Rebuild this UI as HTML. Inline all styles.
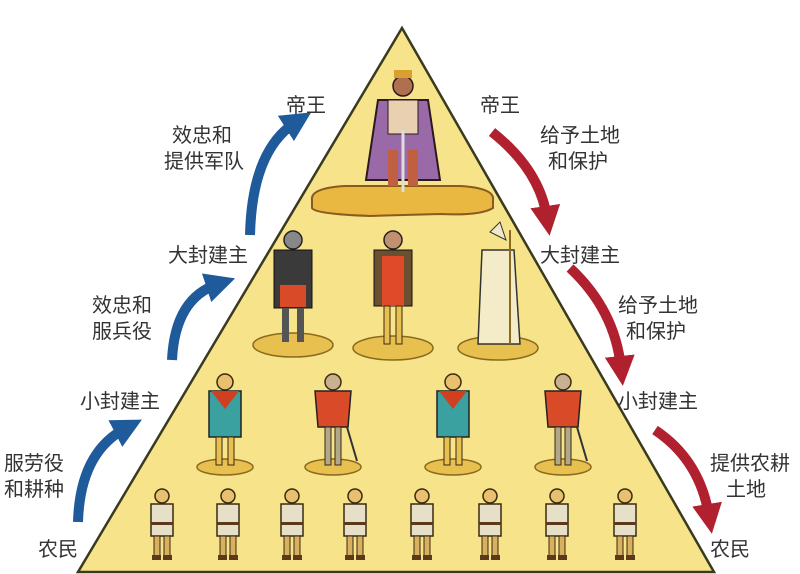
<!DOCTYPE html>
<html><head><meta charset="utf-8"><style>
html,body{margin:0;padding:0;background:#fff;}
svg{display:block}
text{font-family:"Liberation Sans","Noto Sans CJK SC",sans-serif;font-size:20px;fill:#333;}
</style></head><body>
<svg width="800" height="574" viewBox="0 0 800 574" xmlns="http://www.w3.org/2000/svg">
<defs>
<marker id="ab" viewBox="0 0 10 10" refX="4" refY="5" markerWidth="3" markerHeight="3" orient="auto"><path d="M0,0 L10,5 L0,10 z" fill="#1f5a9a"/></marker>
<marker id="ar" viewBox="0 0 10 10" refX="4" refY="5" markerWidth="3" markerHeight="3" orient="auto"><path d="M0,0 L10,5 L0,10 z" fill="#b0202e"/></marker>
<g id="peasant">
<circle cx="0" cy="-64" r="7" fill="#e8c070" stroke="#3a2a10" stroke-width="1.5"/>
<rect x="-11" y="-56" width="22" height="32" fill="#e6e0c8" stroke="#3a2a10" stroke-width="1.5"/>
<rect x="-11" y="-38" width="22" height="3" fill="#5a3a1a"/>
<rect x="-8" y="-24" width="6" height="20" fill="#d8b060" stroke="#3a2a10"/>
<rect x="2" y="-24" width="6" height="20" fill="#d8b060" stroke="#3a2a10"/>
<rect x="-10" y="-5" width="9" height="5" fill="#5a3a1a"/><rect x="1" y="-5" width="9" height="5" fill="#5a3a1a"/>
</g>
<g id="blue">
<ellipse cx="0" cy="0" rx="28" ry="8" fill="#e8c050" stroke="#8a6a20" stroke-width="1.5"/>
<circle cx="0" cy="-85" r="8" fill="#e8c070" stroke="#3a2a10" stroke-width="1.5"/>
<path d="M-16,-76 L16,-76 L16,-30 L-16,-30 z" fill="#3aa0a0" stroke="#222" stroke-width="1.5"/>
<path d="M-14,-76 L14,-76 L0,-58 z" fill="#d04020"/>
<rect x="-9" y="-30" width="6" height="28" fill="#e8c050" stroke="#3a2a10"/>
<rect x="3" y="-30" width="6" height="28" fill="#e8c050" stroke="#3a2a10"/>
</g>
<g id="red">
<ellipse cx="0" cy="0" rx="28" ry="8" fill="#e8c050" stroke="#8a6a20" stroke-width="1.5"/>
<circle cx="0" cy="-85" r="8" fill="#c8b090" stroke="#3a2a10" stroke-width="1.5"/>
<path d="M-18,-76 L18,-76 L15,-40 L-15,-40 z" fill="#d84a28" stroke="#222" stroke-width="1.5"/>
<rect x="-8" y="-40" width="6" height="38" fill="#b0a888" stroke="#3a2a10"/>
<rect x="2" y="-40" width="6" height="38" fill="#b0a888" stroke="#3a2a10"/>
<line x1="14" y1="-40" x2="24" y2="-6" stroke="#333" stroke-width="2"/>
</g>
</defs>
<polygon points="402,28 78,572 714,572" fill="#f7e38a" stroke="#3a3a20" stroke-width="2.5"/>
<path d="M312,200 Q310,188 345,186 L460,186 Q495,188 493,200 L493,208 Q480,216 440,214 L370,216 Q315,214 312,208 z" fill="#e8b840" stroke="#8a5a20" stroke-width="2"/>
<path d="M378,100 L428,100 L440,180 L366,180 z" fill="#9a6aa8" stroke="#2a1a20" stroke-width="2"/>
<rect x="388" y="100" width="30" height="34" fill="#e8d0b0" stroke="#2a1a20"/>
<circle cx="403" cy="86" r="10" fill="#b07050" stroke="#2a1a20" stroke-width="1.5"/>
<rect x="394" y="70" width="18" height="8" fill="#d8a030"/>
<rect x="388" y="150" width="10" height="36" fill="#c06040"/><rect x="408" y="150" width="10" height="36" fill="#c06040"/>
<line x1="403" y1="130" x2="403" y2="192" stroke="#ddd" stroke-width="3"/>
<ellipse cx="293" cy="345" rx="40" ry="12" fill="#e8c050" stroke="#8a6a20" stroke-width="1.5"/>
<circle cx="293" cy="240" r="9" fill="#888" stroke="#222" stroke-width="1.5"/>
<rect x="274" y="250" width="38" height="58" fill="#3a3a3a" stroke="#111"/>
<rect x="280" y="285" width="26" height="22" fill="#d84a28"/>
<rect x="282" y="308" width="7" height="34" fill="#555"/><rect x="297" y="308" width="7" height="34" fill="#555"/>
<ellipse cx="393" cy="348" rx="40" ry="12" fill="#e8c050" stroke="#8a6a20" stroke-width="1.5"/>
<circle cx="393" cy="240" r="9" fill="#c09070" stroke="#222" stroke-width="1.5"/>
<rect x="374" y="250" width="38" height="56" fill="#6a5030" stroke="#111"/>
<rect x="382" y="256" width="22" height="50" fill="#e04a28"/>
<rect x="384" y="306" width="6" height="38" fill="#e8c050" stroke="#3a2a10"/><rect x="396" y="306" width="6" height="38" fill="#e8c050" stroke="#3a2a10"/>
<ellipse cx="498" cy="348" rx="40" ry="12" fill="#e8c050" stroke="#8a6a20" stroke-width="1.5"/>
<path d="M490,232 L500,222 L506,240 z" fill="#f0e8c8" stroke="#333"/>
<path d="M482,250 L514,250 L520,344 L478,344 z" fill="#f4ecc8" stroke="#333" stroke-width="1.5"/>
<line x1="510" y1="230" x2="510" y2="344" stroke="#8a6a20" stroke-width="2"/>
<use href="#blue" x="225" y="467"/>
<use href="#red" x="333" y="467"/>
<use href="#blue" x="453" y="467"/>
<use href="#red" x="563" y="467"/>
<use href="#peasant" x="162" y="560"/>
<use href="#peasant" x="228" y="560"/>
<use href="#peasant" x="292" y="560"/>
<use href="#peasant" x="355" y="560"/>
<use href="#peasant" x="422" y="560"/>
<use href="#peasant" x="490" y="560"/>
<use href="#peasant" x="557" y="560"/>
<use href="#peasant" x="625" y="560"/>
<g fill="none" stroke-width="10" stroke-linecap="butt">
<path d="M250,235 Q252,150 296,122" stroke="#1f5a9a" marker-end="url(#ab)"/>
<path d="M172,360 Q175,298 218,284" stroke="#1f5a9a" marker-end="url(#ab)"/>
<path d="M78,522 Q80,452 126,428" stroke="#1f5a9a" marker-end="url(#ab)"/>
<path d="M492,132 Q540,170 547,218" stroke="#b0202e" marker-end="url(#ar)"/>
<path d="M570,268 Q615,310 621,368" stroke="#b0202e" marker-end="url(#ar)"/>
<path d="M655,430 Q700,460 709,516" stroke="#b0202e" marker-end="url(#ar)"/>
</g>
<text x="286" y="112">帝王</text>
<text x="480" y="112">帝王</text>
<text x="172" y="142">效忠和</text>
<text x="164" y="168">提供军队</text>
<text x="540" y="142">给予土地</text>
<text x="548" y="168">和保护</text>
<text x="168" y="262">大封建主</text>
<text x="540" y="262">大封建主</text>
<text x="92" y="312">效忠和</text>
<text x="92" y="338">服兵役</text>
<text x="618" y="312">给予土地</text>
<text x="626" y="338">和保护</text>
<text x="80" y="408">小封建主</text>
<text x="618" y="408">小封建主</text>
<text x="4" y="470">服劳役</text>
<text x="4" y="496">和耕种</text>
<text x="710" y="470">提供农耕</text>
<text x="726" y="496">土地</text>
<text x="38" y="556">农民</text>
<text x="710" y="556">农民</text>
</svg>
</body></html>
